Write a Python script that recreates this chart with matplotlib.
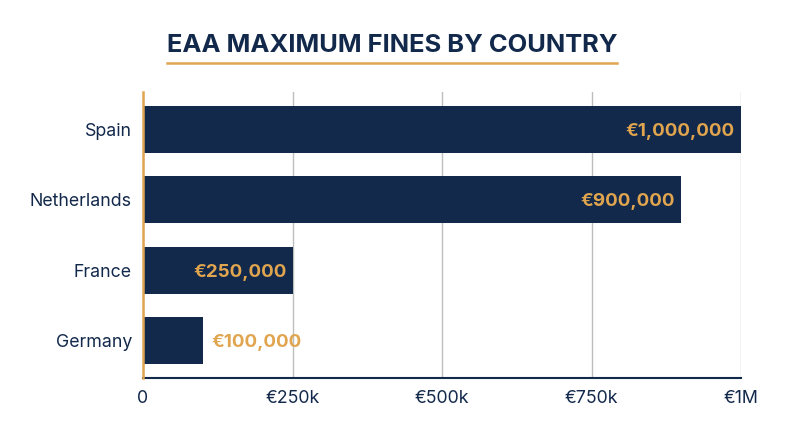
import matplotlib
matplotlib.use("Agg")
import matplotlib.pyplot as plt

countries = ["Spain", "Netherlands", "France", "Germany"]
fines = [1000000, 900000, 250000, 100000]
fine_labels = ["€1,000,000", "€900,000", "€250,000", "€100,000"]
xticks = [0, 250000, 500000, 750000, 1000000]
xtick_labels = ["0", "€250k", "€500k", "€750k", "€1M"]

navy = "#13294b"
gold = "#e0a54e"

plt.rcParams["font.family"] = ["Inter", "DejaVu Sans"]

fig = plt.figure(figsize=(8, 4.47), dpi=100)
ax = fig.add_axes([0.17875, 0.1544, 0.7475, 0.6398])

ypos = list(range(len(countries)))
ax.barh(ypos, fines, height=0.67, color=navy, zorder=3)

for y, v, lab in zip(ypos, fines, fine_labels):
    if v >= 200000:
        ax.text(v - 10000, y, lab, ha="right", va="center_baseline", color=gold,
                fontsize=13.5, fontweight="bold", zorder=4)
    else:
        ax.text(v + 15000, y, lab, ha="left", va="center_baseline", color=gold,
                fontsize=13.5, fontweight="bold", zorder=4)

ax.set_xlim(0, 1000000)
ax.set_ylim(len(countries) - 1 + 0.54, -0.54)
ax.set_yticks(ypos)
ax.set_yticklabels(countries)
ax.set_xticks(xticks)
ax.set_xticklabels(xtick_labels)
ax.tick_params(axis="both", length=0, labelsize=12.8, colors=navy)
ax.tick_params(axis="x", pad=9)
ax.tick_params(axis="y", pad=8)

ax.grid(axis="x", color="#bdbdbd", linewidth=1, zorder=0)
for s in ["top", "right"]:
    ax.spines[s].set_visible(False)
ax.spines["left"].set_color(gold)
ax.spines["left"].set_linewidth(1.8)
ax.spines["left"].set_zorder(5)
ax.spines["bottom"].set_color(navy)
ax.spines["bottom"].set_linewidth(1.5)

fig.text(392 / 800, 1 - 46 / 447, "EAA MAXIMUM FINES BY COUNTRY", ha="center",
         va="center", fontsize=18.4, fontweight="bold", color=navy)
fig.add_artist(plt.Line2D([167 / 800, 617 / 800], [1 - 63 / 447, 1 - 63 / 447],
                          color=gold, linewidth=1.8))

fig.savefig("out.png", dpi=100)
